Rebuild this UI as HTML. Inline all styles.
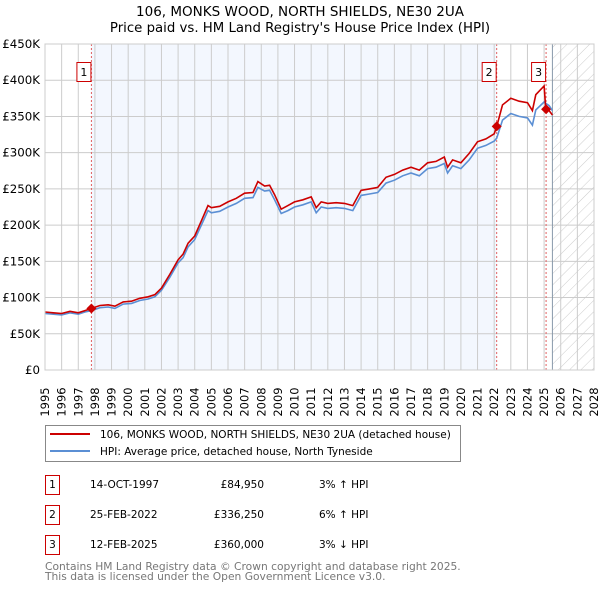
<!DOCTYPE html>
<html><head><meta charset="utf-8"><style>
body{margin:0;background:#fff;font-family:"Liberation Sans","DejaVu Sans",sans-serif;}
svg text{font-family:"DejaVu Sans","Liberation Sans",sans-serif;}
</style></head><body>
<svg id="c" width="600" height="590" xmlns="http://www.w3.org/2000/svg">
<defs><pattern id="hatch" width="8" height="8" patternUnits="userSpaceOnUse" patternTransform="rotate(45)"><line x1="0" y1="0" x2="0" y2="8" stroke="#ccc" stroke-width="1"/></pattern></defs>
<text x="300" y="16" text-anchor="middle" font-size="13.5">106, MONKS WOOD, NORTH SHIELDS, NE30 2UA</text>
<text x="300" y="32" text-anchor="middle" font-size="13.3">Price paid vs. HM Land Registry's House Price Index (HPI)</text>
<g id="plot"></g>
<g>
<rect x="45.5" y="425.5" width="415" height="36" fill="#fff" stroke="#888"/>
<line x1="50" y1="434" x2="90" y2="434" stroke="#cc0000" stroke-width="2"/>
<text x="100" y="438" font-size="10.5">106, MONKS WOOD, NORTH SHIELDS, NE30 2UA (detached house)</text>
<line x1="50" y1="451" x2="90" y2="451" stroke="#5b8fd4" stroke-width="2"/>
<text x="100" y="455" font-size="10.5">HPI: Average price, detached house, North Tyneside</text>
</g>
<g font-size="10.5">
<rect x="45.5" y="475.5" width="14" height="19" fill="#fff" stroke="#cc0000"/><text x="52.5" y="488" text-anchor="middle">1</text>
<text x="90" y="488">14-OCT-1997</text><text x="264" y="488" text-anchor="end">£84,950</text><text x="319" y="488">3% ↑ HPI</text>
<rect x="45.5" y="505.5" width="14" height="19" fill="#fff" stroke="#cc0000"/><text x="52.5" y="518" text-anchor="middle">2</text>
<text x="90" y="518">25-FEB-2022</text><text x="264" y="518" text-anchor="end">£336,250</text><text x="319" y="518">6% ↑ HPI</text>
<rect x="45.5" y="535.5" width="14" height="19" fill="#fff" stroke="#cc0000"/><text x="52.5" y="548" text-anchor="middle">3</text>
<text x="90" y="548">12-FEB-2025</text><text x="264" y="548" text-anchor="end">£360,000</text><text x="319" y="548">3% ↓ HPI</text>
</g>
<text x="45" y="570" font-size="10.7" fill="#777">Contains HM Land Registry data © Crown copyright and database right 2025.</text>
<text x="45" y="580" font-size="10.7" fill="#777">This data is licensed under the Open Government Licence v3.0.</text>
</svg>
<script>
const years=[1995,1995.5,1996,1996.5,1997,1997.4,1997.8,1998.3,1998.8,1999.2,1999.7,2000.2,2000.7,2001.2,2001.6,2002,2002.5,2003,2003.3,2003.6,2004,2004.4,2004.8,2005,2005.5,2006,2006.5,2007,2007.5,2007.8,2008.2,2008.5,2008.8,2009.2,2009.6,2010,2010.5,2011,2011.3,2011.6,2012,2012.5,2013,2013.5,2014,2014.5,2015,2015.5,2016,2016.5,2017,2017.5,2018,2018.5,2019,2019.2,2019.5,2020,2020.5,2021,2021.5,2022,2022.15,2022.5,2023,2023.5,2024,2024.3,2024.5,2025,2025.1,2025.3,2025.5];
const hpi=[78,77,76,79,77,80,82,86,87,85,91,92,96,98,101,110,128,148,155,170,180,200,220,217,219,225,230,237,238,252,247,248,235,216,220,225,228,232,217,225,223,224,223,220,241,243,245,258,262,268,272,268,278,280,285,272,282,278,290,306,310,316,320,345,354,350,348,338,359,370,368,365,358];
const price=[80,79,78,81,79,82,85,89,90,88,94,95,99,101,104,113,132,152,160,175,185,206,227,224,226,232,237,244,245,260,254,255,242,222,227,232,235,239,224,232,230,231,230,227,248,250,252,266,270,276,280,276,286,288,294,280,290,286,299,315,319,326,336,366,375,371,369,358,380,392,360,358,352];
const saleYears=[1997.79,2022.15,2025.12];
const saleValues=[84.95,336.25,360];
const saleLabels=["1","2","3"];
const yTicks=[0,50,100,150,200,250,300,350,400,450];
const yTickLabels=["£0","£50K","£100K","£150K","£200K","£250K","£300K","£350K","£400K","£450K"];
const xStart=1995,xEnd=2028,hatchStart=2025.5;

const L=45,R=594,T=44,B=370;
const xs=y=>L+(y-xStart)/(xEnd-xStart)*(R-L);
const ys=v=>B-v/450*(B-T);
const NS="http://www.w3.org/2000/svg";
const g=document.getElementById('plot');
function mk(t,a,p){const e=document.createElementNS(NS,t);for(const k in a)e.setAttribute(k,a[k]);(p||g).appendChild(e);return e;}
let e;
e=mk('rect',{x:xs(saleYears[0]),y:T,width:xs(saleYears[1])-xs(saleYears[0]),height:B-T,fill:'#f3f7fe'});


e=mk('rect',{x:xs(hatchStart),y:T,width:R-xs(hatchStart),height:B-T,fill:'url(#hatch)'});


for(let y=xStart;y<=xEnd;y++){
 e=mk('line',{x1:xs(y),x2:xs(y),y1:T,y2:B,stroke:'#ccc','stroke-width':1});
 
 
 const tx=xs(y)+4;
 e=mk('text',{x:0,y:0,transform:`translate(${tx},${B+32}) rotate(-90)`,'font-size':'11.5','text-anchor':'middle'});
 e.textContent=String(y);
 
 
}
yTicks.forEach((v,i)=>{
 e=mk('line',{x1:L,x2:R,y1:ys(v),y2:ys(v),stroke:'#ccc','stroke-width':1});
 
 
 e=mk('text',{x:L-5,y:ys(v)+4,'font-size':'11.8','text-anchor':'end'});
 e.textContent=yTickLabels[i];
 
 
});
e=mk('line',{x1:xs(hatchStart),x2:xs(hatchStart),y1:T,y2:B,stroke:'#8899aa','stroke-width':1});


saleYears.forEach((sy,i)=>{
 e=mk('line',{x1:xs(sy),x2:xs(sy),y1:T,y2:B,stroke:'#e06060','stroke-width':1,'stroke-dasharray':'2,2'});
 
 
});
const pts=a=>a.map((v,i)=>xs(years[i]).toFixed(1)+','+ys(v).toFixed(1)).join(' ');
e=mk('polyline',{points:pts(hpi),fill:'none',stroke:'#5b8fd4','stroke-width':1.6});


e=mk('polyline',{points:pts(price),fill:'none',stroke:'#cc0000','stroke-width':1.6});


saleYears.forEach((sy,i)=>{
 const cx=xs(sy),cy=ys(saleValues[i]);
 e=mk('path',{d:`M${cx-5},${cy}L${cx},${cy-5}L${cx+5},${cy}L${cx},${cy+5}Z`,fill:'#cc0000'});
 
 
 e=mk('rect',{x:cx-14.5,y:62.5,width:14,height:19,fill:'#fff',stroke:'#cc0000'});
 
 
 e=mk('text',{x:cx-7.5,y:76,'font-size':'11','text-anchor':'middle'});
 e.textContent=saleLabels[i];
 
 
});
e=mk('rect',{x:L,y:T,width:R-L,height:B-T,fill:'none',stroke:'#ccc'});


</script>
</body></html>
